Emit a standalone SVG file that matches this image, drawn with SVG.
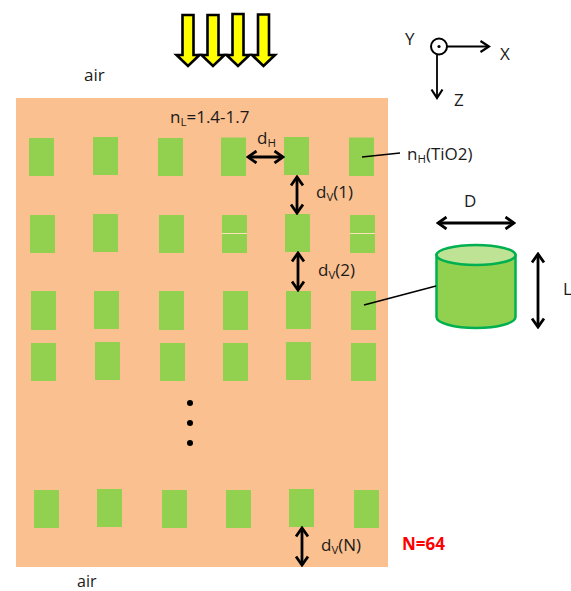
<svg xmlns="http://www.w3.org/2000/svg" width="571" height="591" viewBox="0 0 571 591">
<style>
text{font-family:"Open Sans","Noto Sans",sans-serif;font-size:17px;fill:#1a1a1a}
.sub{font-size:11.500px}
.p{fill:#92D050}
.a{fill:none;stroke:#000;stroke-width:2.800;marker-start:url(#h);marker-end:url(#h)}
.t{fill:none;stroke:#000;stroke-width:1.600}
.y{fill:#FFFF00;stroke:#000;stroke-width:2.600}
</style>
<defs>
<marker id="h" viewBox="-10 -7 12 14" refX="0" refY="0" markerWidth="12" markerHeight="14" markerUnits="userSpaceOnUse" orient="auto-start-reverse"><path d="M-8.500-6 0 0-8.500 6" fill="none" stroke="#000" stroke-width="2.800"/></marker>
<marker id="e" viewBox="-10 -7 12 14" refX="0" refY="0" markerWidth="12" markerHeight="14" markerUnits="userSpaceOnUse" orient="auto"><path d="M-8.500-5.500 0 0-8.500 5.500" fill="none" stroke="#000" stroke-width="2.200"/></marker>
</defs>
<rect id="medium" x="16" y="98" width="372" height="469" fill="#FBC08F"/>
<g id="rods">
<rect class="p" x="29" y="138" width="25" height="38"/><rect class="p" x="93" y="137" width="25" height="38"/><rect class="p" x="158" y="138" width="25" height="38"/><rect class="p" x="221" y="137.500" width="25" height="38.500"/><rect class="p" x="284" y="137" width="25" height="38"/><rect class="p" x="349" y="137.500" width="25" height="38.500"/>
<rect class="p" x="30" y="215" width="25" height="38"/><rect class="p" x="93" y="214" width="25" height="38"/><rect class="p" x="159" y="215" width="25" height="38"/><rect class="p" x="222" y="215" width="25" height="38"/><rect class="p" x="285" y="214" width="25" height="38"/><rect class="p" x="350" y="215" width="25" height="38"/>
<rect x="222" y="233" width="25" height="1" fill="#FBE0B8"/><rect x="350" y="233" width="25" height="1" fill="#FBE0B8"/>
<rect class="p" x="31" y="291" width="25" height="39"/><rect class="p" x="94" y="291" width="25" height="38"/><rect class="p" x="159" y="291" width="25" height="39"/><rect class="p" x="223" y="291" width="25" height="39"/><rect class="p" x="286" y="291" width="25" height="38"/><rect class="p" x="351" y="291" width="25" height="39"/>
<rect class="p" x="31" y="343" width="25" height="38"/><rect class="p" x="95" y="342" width="25" height="38"/><rect class="p" x="160" y="343" width="25" height="38"/><rect class="p" x="223" y="343" width="25" height="38"/><rect class="p" x="286" y="342" width="25" height="38"/><rect class="p" x="351" y="343" width="25" height="38"/>
<rect class="p" x="34" y="490" width="25" height="38"/><rect class="p" x="97" y="489" width="25" height="38"/><rect class="p" x="162" y="490" width="25" height="38"/><rect class="p" x="226" y="490" width="25" height="38"/><rect class="p" x="289" y="489" width="25" height="38"/><rect class="p" x="354" y="490" width="25" height="38"/>
</g>
<g id="dots" fill="#000"><circle cx="190" cy="403" r="3"/><circle cx="190" cy="423" r="3"/><circle cx="190" cy="443" r="3"/></g>
<g id="incident-light">
<path class="y" d="M182.500 15H193.500V55H199.500L188 66 176.500 55H182.500Z"/>
<path class="y" d="M207.500 15H218.500V55H224.500L213 66 201.500 55H207.500Z"/>
<path class="y" d="M232.500 14H243.500V55H249.500L238 66 226.500 55H232.500Z"/>
<path class="y" d="M258 14.500H269V55H275L263.500 66 252 55H258Z"/>
</g>
<g id="axes">
<circle cx="439" cy="46.500" r="8" fill="#fff" stroke="#000" stroke-width="2"/><circle cx="439" cy="46.500" r="1.600" fill="#000"/>
<path d="M447 46.500H489" fill="none" stroke="#000" stroke-width="1.800" marker-end="url(#e)"/>
<path d="M437 55V98" fill="none" stroke="#000" stroke-width="1.800" marker-end="url(#e)"/>
<text x="405" y="45">Y</text><text x="500" y="60">X</text><text x="454" y="106">Z</text>
</g>
<g id="cylinder">
<path d="M436.500 255V317C436.500 323 454 328 476 328S515.500 323 515.500 317V255Z" fill="#92D050" stroke="#00B050" stroke-width="2.500"/>
<ellipse cx="476" cy="255" rx="39.500" ry="10" fill="#BEE395" stroke="#00B050" stroke-width="2.500"/>
</g>
<g id="connectors">
<path class="a" d="M248 157H283"/>
<path class="a" d="M297 177V213"/>
<path class="a" d="M298 253V290"/>
<path class="a" d="M302 528V565"/>
<path class="a" d="M438 223H514"/>
<path class="a" d="M538 254V327"/>
<path class="t" d="M362 157 400 153"/>
<path class="t" d="M364 305 436 286"/>
</g>
<g id="labels">
<text x="84" y="81">air</text>
<text x="77" y="587" style="font-size:16px">air</text>
<text x="170" y="123">n<tspan class="sub" dy="3">L</tspan><tspan dy="-3">=1.4-1.7</tspan></text>
<text x="257" y="144">d<tspan class="sub" dy="3">H</tspan></text>
<text x="407" y="160">n<tspan class="sub" dy="3">H</tspan><tspan dy="-3">(TiO2)</tspan></text>
<text x="316" y="198">d<tspan class="sub" dy="3">V</tspan><tspan dy="-3">(1)</tspan></text>
<text x="318" y="276">d<tspan class="sub" dy="3">V</tspan><tspan dy="-3">(2)</tspan></text>
<text x="321" y="551">d<tspan class="sub" dy="3">V</tspan><tspan dy="-3">(N)</tspan></text>
<text x="464" y="207">D</text>
<text x="563" y="295">L</text>
<text x="402" y="550" style="fill:#FF0000;font-weight:700">N=64</text>
</g>
</svg>
